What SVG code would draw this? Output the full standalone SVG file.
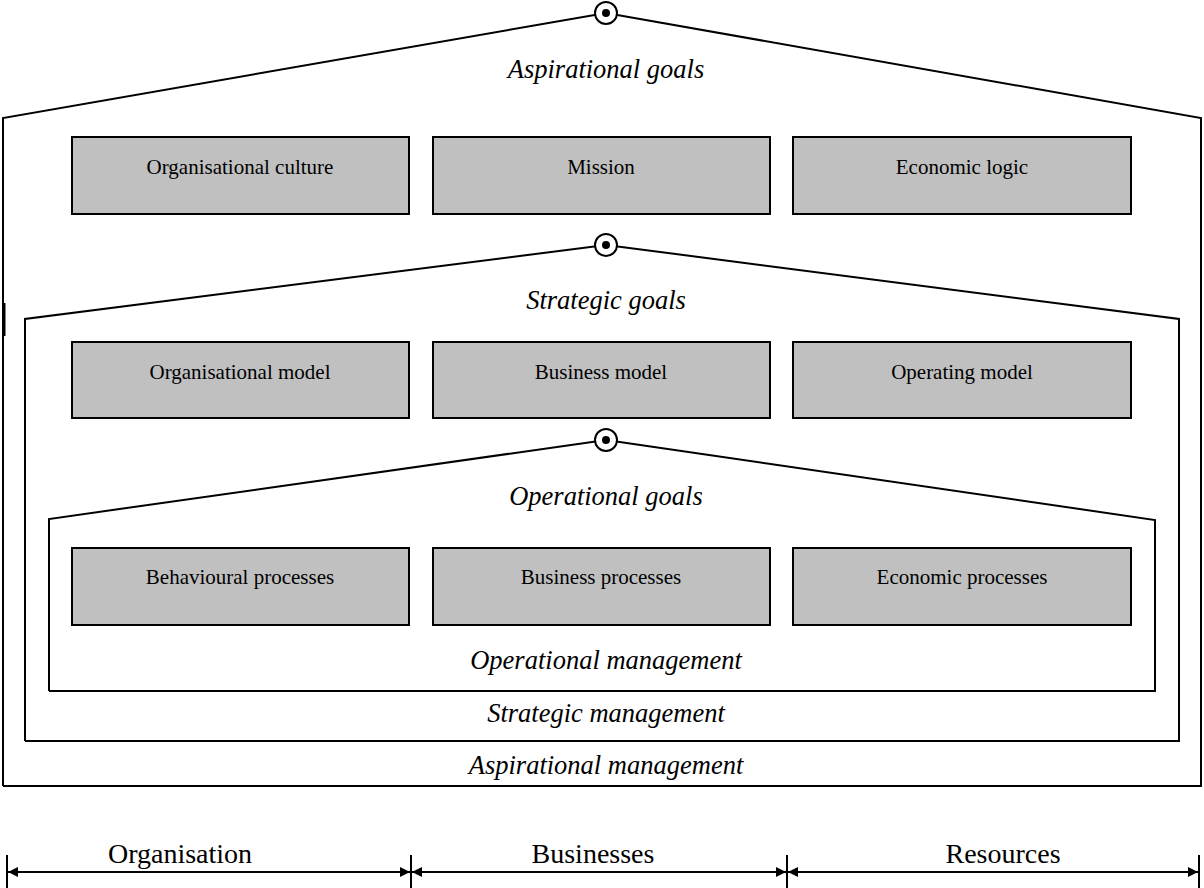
<svg xmlns="http://www.w3.org/2000/svg" width="1204" height="888" viewBox="0 0 1204 888">
<defs>
<style>
.wall{fill:none;stroke:#000;stroke-width:2}
.box{fill:#c0c0c0;stroke:#000;stroke-width:2}
.bt{font-family:"Liberation Serif","Times New Roman",serif;font-size:21px;text-anchor:middle}
.it{font-family:"Liberation Serif","Times New Roman",serif;font-size:26.5px;font-style:italic;text-anchor:middle}
.lb{font-family:"Liberation Serif","Times New Roman",serif;font-size:28px;text-anchor:middle}
.ring{fill:#fff;stroke:#000;stroke-width:2}
.ln{stroke:#000;stroke-width:2;fill:none}
</style>
<marker id="ah" viewBox="0 0 10 10" refX="10" refY="5" markerWidth="16" markerHeight="10" markerUnits="userSpaceOnUse" orient="auto"><path d="M0,0L10,5L0,10z" fill="#000"/></marker>
</defs>
<g id="house-aspirational">
<path class="wall" d="M3,786 V118 L606,13 L1201,118 V786 H3"/>
<line x1="4" y1="303" x2="4" y2="336" stroke="#000" stroke-width="3"/>
<circle class="ring" cx="606" cy="13" r="11"/><circle cx="606" cy="13" r="4"/>
<text class="it" x="606" y="78">Aspirational goals</text>
<text class="it" x="606" y="774">Aspirational management</text>
</g>
<g id="house-strategic">
<path class="wall" d="M25,741 V319 L606,245 L1179,319 V741 H25"/>
<circle class="ring" cx="606" cy="245" r="11"/><circle cx="606" cy="245" r="4"/>
<text class="it" x="606" y="309">Strategic goals</text>
<text class="it" x="606" y="722">Strategic management</text>
</g>
<g id="house-operational">
<path class="wall" d="M49,691 V519 L606,440 L1155,520 V691 H49"/>
<circle class="ring" cx="606" cy="440" r="11"/><circle cx="606" cy="440" r="4"/>
<text class="it" x="606" y="505">Operational goals</text>
<text class="it" x="606" y="669">Operational management</text>
</g>
<g id="node-culture"><rect class="box" x="72" y="137" width="337" height="77"/><text class="bt" x="240" y="174">Organisational culture</text></g>
<g id="node-mission"><rect class="box" x="433" y="137" width="337" height="77"/><text class="bt" x="601" y="174">Mission</text></g>
<g id="node-economic-logic"><rect class="box" x="793" y="137" width="338" height="77"/><text class="bt" x="962" y="174">Economic logic</text></g>
<g id="node-org-model"><rect class="box" x="72" y="342" width="337" height="76"/><text class="bt" x="240" y="379">Organisational model</text></g>
<g id="node-business-model"><rect class="box" x="433" y="342" width="337" height="76"/><text class="bt" x="601" y="379">Business model</text></g>
<g id="node-operating-model"><rect class="box" x="793" y="342" width="338" height="76"/><text class="bt" x="962" y="379">Operating model</text></g>
<g id="node-behavioural"><rect class="box" x="72" y="548" width="337" height="77"/><text class="bt" x="240" y="584">Behavioural processes</text></g>
<g id="node-business-proc"><rect class="box" x="433" y="548" width="337" height="77"/><text class="bt" x="601" y="584">Business processes</text></g>
<g id="node-economic-proc"><rect class="box" x="793" y="548" width="338" height="77"/><text class="bt" x="962" y="584">Economic processes</text></g>
<g id="connectors">
<line class="ln" x1="7" y1="855" x2="7" y2="888"/>
<line class="ln" x1="411" y1="855" x2="411" y2="888"/>
<line class="ln" x1="787" y1="855" x2="787" y2="888"/>
<line class="ln" x1="1199" y1="855" x2="1199" y2="888"/>
<line class="ln" x1="210" y1="872" x2="8" y2="872" marker-end="url(#ah)"/>
<line class="ln" x1="210" y1="872" x2="410" y2="872" marker-end="url(#ah)"/>
<line class="ln" x1="599" y1="872" x2="412" y2="872" marker-end="url(#ah)"/>
<line class="ln" x1="599" y1="872" x2="786" y2="872" marker-end="url(#ah)"/>
<line class="ln" x1="993" y1="872" x2="788" y2="872" marker-end="url(#ah)"/>
<line class="ln" x1="993" y1="872" x2="1198" y2="872" marker-end="url(#ah)"/>
</g>
<g id="labels">
<text class="lb" x="180" y="863">Organisation</text>
<text class="lb" x="593" y="863">Businesses</text>
<text class="lb" x="1003" y="863">Resources</text>
</g>
</svg>
